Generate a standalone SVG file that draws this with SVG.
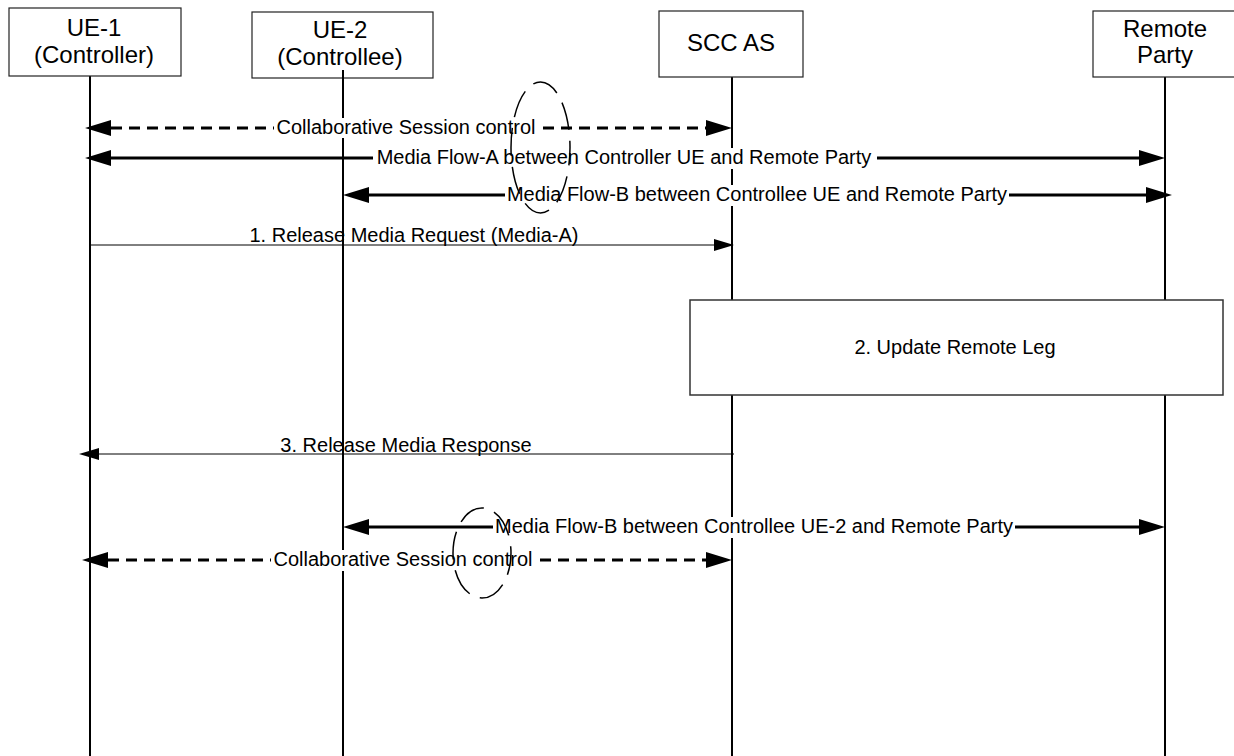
<svg xmlns="http://www.w3.org/2000/svg" width="1234" height="756" viewBox="0 0 1234 756">
<style>
  .box { fill: #fff; stroke: #222; stroke-width: 1.2; }
  .life { stroke: #000; stroke-width: 2; fill: none; }
  .title { font-family: "Liberation Sans", Arial, sans-serif; font-size: 24px; fill: #000; text-anchor: middle; }
  .lbl { font-family: "Liberation Sans", Arial, sans-serif; font-size: 20px; fill: #000; text-anchor: middle; }
  .bold { stroke: #000; stroke-width: 3; fill: none; }
  .dash { stroke-dasharray: 11 7; }
  .thin { stroke: #000; stroke-width: 1; fill: none; }
  .bg { fill: #fff; stroke: none; }
  .ell { fill: none; stroke: #000; stroke-width: 1.5; stroke-dasharray: 28 11; }
</style>
<defs>
  <marker id="ah" markerUnits="userSpaceOnUse" viewBox="0 0 26 16" markerWidth="26" markerHeight="16" refX="0" refY="8" orient="auto-start-reverse" overflow="visible">
    <path d="M0,0 L26,8 L0,16 z" fill="#000"/>
  </marker>
  <marker id="ahs" markerUnits="userSpaceOnUse" viewBox="0 0 20 12" markerWidth="20" markerHeight="12" refX="0" refY="6" orient="auto" overflow="visible">
    <path d="M0,0 L20,6 L0,12 z" fill="#000"/>
  </marker>
</defs>
<rect width="1234" height="756" fill="#fff"/>

<g id="ue1">
  <line class="life" x1="90" y1="76" x2="90" y2="756"/>
  <rect class="box" x="9" y="8" width="172" height="68"/>
  <text class="title" x="94" y="36">UE-1</text>
  <text class="title" x="94" y="63">(Controller)</text>
</g>
<g id="ue2">
  <rect class="box" x="252" y="12" width="181" height="66"/>
  <text class="title" x="340" y="38">UE-2</text>
  <text class="title" x="340" y="65">(Controllee)</text>
  <line class="life" x1="343" y1="70" x2="343" y2="756"/>
</g>
<g id="sccas">
  <line class="life" x1="732" y1="77" x2="732" y2="756"/>
  <rect class="box" x="659" y="11" width="144" height="66"/>
  <text class="title" x="731" y="51">SCC AS</text>
</g>
<g id="remote">
  <line class="life" x1="1165" y1="77" x2="1165" y2="756"/>
  <rect class="box" x="1093" y="11" width="150" height="66"/>
  <text class="title" x="1165" y="37">Remote</text>
  <text class="title" x="1165" y="63">Party</text>
</g>
<g id="update-remote-leg">
  <rect class="box" x="690" y="300" width="533" height="95" style="stroke:#333;stroke-width:1.5"/>
  <text class="lbl" x="955" y="354">2. Update Remote Leg</text>
</g>

<g id="connectors">
  <line class="bold dash" x1="111" y1="128" x2="706" y2="128" marker-start="url(#ah)" marker-end="url(#ah)"/>
  <line class="bold" x1="111" y1="158" x2="1139" y2="158" marker-start="url(#ah)" marker-end="url(#ah)"/>
  <line class="bold" x1="369" y1="195" x2="1146" y2="195" marker-start="url(#ah)" marker-end="url(#ah)"/>
  <line class="thin" x1="90" y1="245" x2="714" y2="245" marker-end="url(#ahs)"/>
  <line class="thin" x1="734" y1="454" x2="99" y2="454" marker-end="url(#ahs)"/>
  <line class="bold" x1="369" y1="527" x2="1139" y2="527" marker-start="url(#ah)" marker-end="url(#ah)"/>
  <line class="bold dash" x1="108" y1="560" x2="706" y2="560" marker-start="url(#ah)" marker-end="url(#ah)"/>

  <rect class="bg" x="274" y="118" width="264" height="20"/>
  <text class="lbl" x="406" y="134">Collaborative Session control</text>
  <rect class="bg" x="373" y="148" width="504" height="21"/>
  <text class="lbl" x="624" y="164">Media Flow-A between Controller UE and Remote Party</text>
  <rect class="bg" x="505" y="185" width="504" height="21"/>
  <text class="lbl" x="757" y="201">Media Flow-B between Controllee UE and Remote Party</text>
  <text class="lbl" x="414" y="242">1. Release Media Request (Media-A)</text>
  <text class="lbl" x="406" y="452">3. Release Media Response</text>
  <rect class="bg" x="493" y="517" width="522" height="21"/>
  <text class="lbl" x="754" y="533">Media Flow-B between Controllee UE-2 and Remote Party</text>
  <rect class="bg" x="271" y="550" width="264" height="21"/>
  <text class="lbl" x="403" y="566">Collaborative Session control</text>

  <ellipse class="ell" cx="540.5" cy="147.5" rx="29.5" ry="65.5" stroke-dashoffset="10"/>
  <ellipse class="ell" cx="482" cy="553" rx="29" ry="45" stroke-dashoffset="6"/>
</g>
</svg>
